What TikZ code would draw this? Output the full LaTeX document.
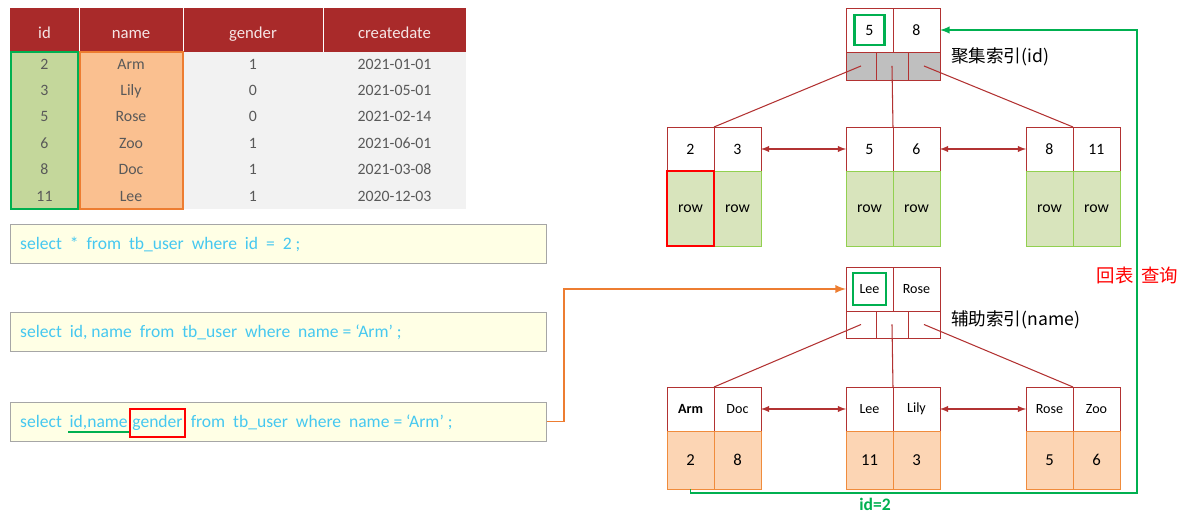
\documentclass[tikz,border=0pt]{standalone}
\usepackage{fontspec}
\setmainfont{Carlito}
\newfontfamily\cjk{Noto Sans CJK SC}
\usetikzlibrary{positioning}

\definecolor{headred}{RGB}{169,42,42}
\definecolor{treered}{RGB}{178,50,50}
\definecolor{idgreen}{RGB}{196,215,155}
\definecolor{namegold}{RGB}{250,192,144}
\definecolor{bodygray}{RGB}{242,242,242}
\definecolor{txtgray}{RGB}{89,89,89}
\definecolor{markgreen}{RGB}{0,176,80}
\definecolor{markorange}{RGB}{237,125,49}
\definecolor{sqlblue}{RGB}{70,200,240}
\definecolor{sqlfill}{RGB}{255,255,229}
\definecolor{sqlline}{RGB}{166,166,166}
\definecolor{rowfill}{RGB}{216,228,188}
\definecolor{rowline}{RGB}{146,208,80}
\definecolor{valfill}{RGB}{252,213,180}
\definecolor{valline}{RGB}{240,140,60}
\definecolor{ptrgray}{RGB}{191,191,191}

\tikzset{
  keycell/.style={draw=treered,fill=white,minimum width=0.94cm,minimum height=0.88cm,inner sep=0pt,outer sep=0pt,font=\fontsize{9}{10}\selectfont},
  ptrcell/.style={draw=treered,minimum height=0.56cm,inner sep=0pt,outer sep=0pt},
  rowcell/.style={draw=rowline,fill=rowfill,minimum width=0.94cm,minimum height=1.5cm,inner sep=0pt,outer sep=0pt,font=\fontsize{9}{10}\selectfont},
  valcell/.style={draw=valline,fill=valfill,minimum width=0.94cm,minimum height=1.16cm,inner sep=0pt,outer sep=0pt,font=\fontsize{9.5}{10}\selectfont},
  sqlbox/.style={draw=sqlline,fill=sqlfill,minimum width=10.72cm,minimum height=0.78cm,inner sep=0pt,anchor=west},
  sqltxt/.style={text=sqlblue,font=\fontsize{10}{12}\selectfont,text height=1.6ex,text depth=0.45ex,inner xsep=0.5pt,inner ysep=1pt},
  tabtxt/.style={font=\fontsize{9}{10}\selectfont,text=txtgray,text height=1.5ex,text depth=0.3ex},
  headtxt/.style={font=\fontsize{9.5}{10}\selectfont,text=white!88!headred,text height=1.6ex,text depth=0.45ex},
  idmark/.style={draw=markgreen,line width=1.2pt,inner sep=0pt},
  link/.style={treered,line width=0.6pt},
  hop/.style={treered,line width=0.6pt,latex-latex},
  backtxt/.style={font=\cjk\fontsize{10.5}{12}\selectfont,text=red,inner xsep=0pt},
}

\begin{document}
\begin{tikzpicture}[x=0.02cm,y=-0.02cm]
\useasboundingbox (0,0) rectangle (1188,516);

% table
\draw[fill=headred,draw=none] (10,8) rectangle (466,52);
\draw[white,very thin] (79,8) -- (79,52);
\draw[white,very thin] (183,8) -- (183,52);
\draw[white,very thin] (323,8) -- (323,52);
\draw[fill=idgreen,draw=none] (10,52) rectangle (79,209);
\draw[fill=namegold,draw=none] (79,52) rectangle (183,209);
\draw[fill=bodygray,draw=none] (183,52) rectangle (466,209);
\draw[markgreen,line width=1.2pt] (11,52) rectangle (78,209);
\draw[markorange,line width=1.2pt] (80,52) rectangle (183,209);
\node[headtxt] (hid) at (44.5,34) {id};
\node[headtxt] (hname) at (131,34) {name};
\node[headtxt] (hgender) at (253,34) {gender};
\node[headtxt] (hdate) at (394.5,34) {createdate};
\node[tabtxt] (id1) at (44.5,64) {2};
\node[tabtxt] (nm1) at (131,64) {Arm};
\node[tabtxt] (gd1) at (253,64) {1};
\node[tabtxt] (dt1) at (394.5,64) {2021-01-01};
\node[tabtxt] (id2) at (44.5,90) {3};
\node[tabtxt] (nm2) at (131,90) {Lily};
\node[tabtxt] (gd2) at (253,90) {0};
\node[tabtxt] (dt2) at (394.5,90) {2021-05-01};
\node[tabtxt] (id3) at (44.5,116) {5};
\node[tabtxt] (nm3) at (131,116) {Rose};
\node[tabtxt] (gd3) at (253,116) {0};
\node[tabtxt] (dt3) at (394.5,116) {2021-02-14};
\node[tabtxt] (id4) at (44.5,143) {6};
\node[tabtxt] (nm4) at (131,143) {Zoo};
\node[tabtxt] (gd4) at (253,143) {1};
\node[tabtxt] (dt4) at (394.5,143) {2021-06-01};
\node[tabtxt] (id5) at (44.5,169) {8};
\node[tabtxt] (nm5) at (131,169) {Doc};
\node[tabtxt] (gd5) at (253,169) {1};
\node[tabtxt] (dt5) at (394.5,169) {2021-03-08};
\node[tabtxt] (id6) at (44.5,196) {11};
\node[tabtxt] (nm6) at (131,196) {Lee};
\node[tabtxt] (gd6) at (253,196) {1};
\node[tabtxt] (dt6) at (394.5,196) {2020-12-03};

% queries
\node[sqlbox] (q1) at (10,243.5) {};
\node[sqltxt,anchor=west] (q1txt) at (19,245) {select \ * \ from \ tb\_user \ where \ id \ = \ 2 ;};
\node[sqlbox] (q2) at (10,331.5) {};
\node[sqltxt,anchor=west] (q2txt) at (19,333) {select \ id, name \ from \ tb\_user \ where \ name = ‘Arm’ ;};
\node[sqlbox] (q3) at (10,421.5) {};
\node[sqltxt,anchor=west] (q3a) at (19,423) {select};
\node[sqltxt,right=3pt of q3a] (q3b) {id,name};
\node[sqltxt,draw=red,line width=0.9pt,inner xsep=1.5pt,inner ysep=3pt,right=0pt of q3b] (q3c) {gender};
\node[sqltxt,right=2pt of q3c] (q3d) {from \ tb\_user \ where \ name = ‘Arm’ ;};
\draw[markgreen,line width=0.9pt] ([yshift=1pt]q3b.south west) -- ([yshift=1pt]q3b.south east);

% clustered index
\node[keycell] (ck5) at (869.5,30) {5};
\node[keycell,right=0pt of ck5] (ck8) {8};
\node[idmark,minimum width=0.6cm,minimum height=0.6cm] (ck5mark) at (ck5) {};
\node[ptrcell,fill=ptrgray,minimum width=0.6cm,anchor=north west] (cp1) at (ck5.south west) {};
\node[ptrcell,fill=ptrgray,minimum width=0.64cm,right=0pt of cp1] (cp2) {};
\node[ptrcell,fill=ptrgray,minimum width=0.64cm,right=0pt of cp2] (cp3) {};
\node[font=\cjk\fontsize{10}{12}\selectfont,anchor=west] (clabel) at (945,57) {聚集索引(id)};

\node[keycell] (ck2) at (690.5,149) {2};
\node[keycell,right=0pt of ck2] (ck3) {3};
\node[keycell] (ck5b) at (869.5,149) {5};
\node[keycell,right=0pt of ck5b] (ck6) {6};
\node[keycell] (ck8b) at (1049.5,149) {8};
\node[keycell,right=0pt of ck8b] (ck11) {11};
\node[rowcell,below=0pt of ck3] (cr3) {row};
\node[rowcell,below=0pt of ck2,draw=red,line width=1.2pt] (cr2) {row};
\node[rowcell,below=0pt of ck5b] (cr5) {row};
\node[rowcell,below=0pt of ck6] (cr6) {row};
\node[rowcell,below=0pt of ck8b] (cr8) {row};
\node[rowcell,below=0pt of ck11] (cr11) {row};

\draw[link] (cp1.center) -- (ck2.north east);
\draw[link] (cp2.center) -- (ck5b.north east);
\draw[link] (cp3.center) -- (ck8b.north east);
\draw[hop] (ck3.east) -- (ck5b.west);
\draw[hop] (ck6.east) -- (ck8b.west);

% secondary index
\node[keycell,font=\fontsize{8}{10}\selectfont] (sk1) at (869.5,289) {Lee};
\node[keycell,font=\fontsize{8}{10}\selectfont,right=0pt of sk1] (sk2) {Rose};
\node[idmark,minimum width=0.66cm,minimum height=0.64cm] (sk1mark) at (sk1) {};
\node[ptrcell,fill=white,minimum width=0.6cm,minimum height=0.54cm,anchor=north west] (sp1) at (sk1.south west) {};
\node[ptrcell,fill=white,minimum width=0.64cm,minimum height=0.54cm,right=0pt of sp1] (sp2) {};
\node[ptrcell,fill=white,minimum width=0.64cm,minimum height=0.54cm,right=0pt of sp2] (sp3) {};
\node[font=\cjk\fontsize{10}{12}\selectfont,anchor=west] (slabel) at (945,320) {辅助索引(name)};

\node[keycell,font=\bfseries\fontsize{8}{10}\selectfont] (sa) at (690.5,409) {Arm};
\node[keycell,font=\fontsize{8}{10}\selectfont,right=0pt of sa] (sd) {Doc};
\node[keycell,font=\fontsize{8}{10}\selectfont] (sl) at (869.5,409) {Lee};
\node[keycell,font=\fontsize{8}{10}\selectfont,right=0pt of sl] (sy) {Lily};
\node[keycell,font=\fontsize{8}{10}\selectfont] (sr) at (1049.5,409) {Rose};
\node[keycell,font=\fontsize{8}{10}\selectfont,right=0pt of sr] (sz) {Zoo};
\node[valcell,below=0pt of sa] (sv2) {2};
\node[valcell,below=0pt of sd] (sv8) {8};
\node[valcell,below=0pt of sl] (sv11) {11};
\node[valcell,below=0pt of sy] (sv3) {3};
\node[valcell,below=0pt of sr] (sv5) {5};
\node[valcell,below=0pt of sz] (sv6) {6};

\draw[link] (sp1.center) -- (sa.north east);
\draw[link] (sp2.center) -- (sl.north east);
\draw[link] (sp3.center) -- (sr.north east);
\draw[hop] (sd.east) -- (sl.west);
\draw[hop] (sy.east) -- (sr.west);

% lookups
\draw[markorange,line width=1.1pt,-latex] (q3.east) -- ++(17,0) |- (sk1.west);
\coordinate (back) at (1137,493);
\draw[markgreen,line width=0.9pt,-latex] (sv2.south) |- (back) |- (ck8.east);
\node[font=\bfseries\fontsize{10}{12}\selectfont,text=markgreen] (idtwo) at (875,504) {id=2};
\node[backtxt,anchor=east] (backa) at (1134,275) {回表};
\node[backtxt,anchor=west] (backb) at (1141,275) {查询};

\end{tikzpicture}
\end{document}
